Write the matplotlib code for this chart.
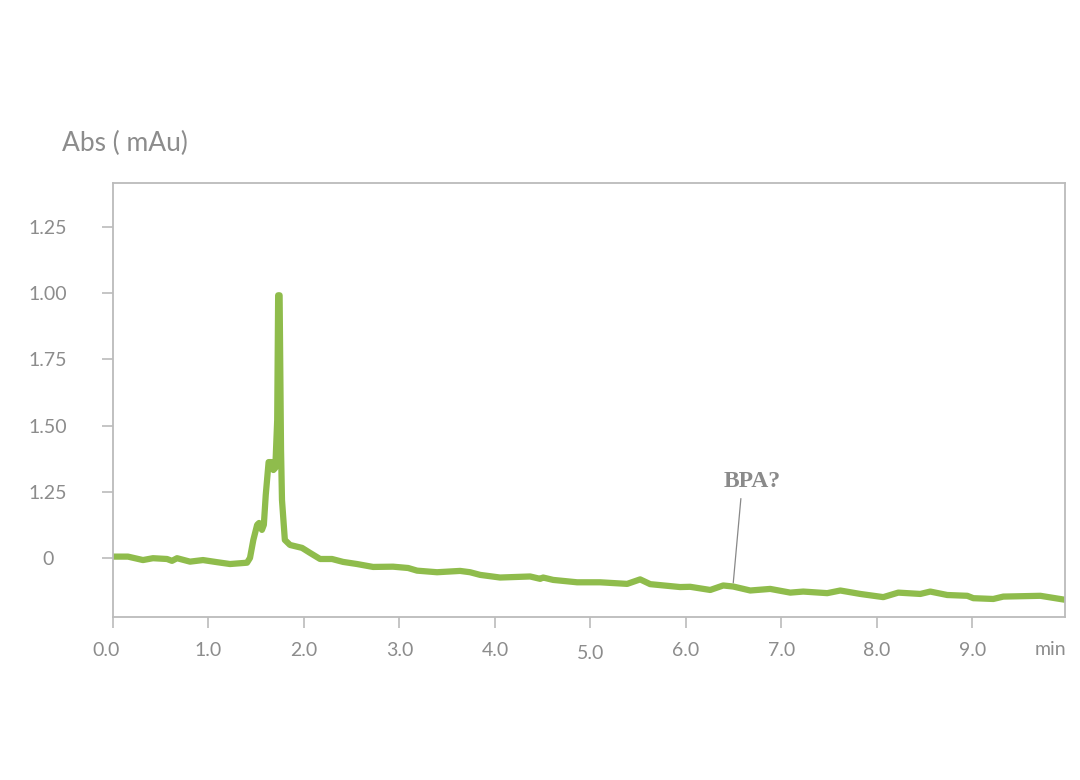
import numpy as np
import matplotlib.pyplot as plt
import matplotlib.transforms as mtransforms

# retention time (min) and absorbance
tiempo = [0.0, 0.157, 0.314, 0.419, 0.566, 0.618, 0.671, 0.807, 0.943, 1.090,
          1.226, 1.404, 1.435, 1.47, 1.51, 1.53, 1.56, 1.58, 1.60, 1.63, 1.66,
          1.68, 1.70, 1.72, 1.73, 1.745, 1.76, 1.77, 1.80, 1.854, 1.98, 2.064,
          2.169, 2.294, 2.410, 2.556, 2.724, 2.933, 3.091, 3.185, 3.394, 3.635,
          3.740, 3.845, 4.054, 4.369, 4.474, 4.505, 4.610, 4.861, 5.102, 5.385,
          5.521, 5.626, 5.940, 6.045, 6.255, 6.391, 6.496, 6.674, 6.883, 7.093,
          7.229, 7.480, 7.617, 7.826, 8.067, 8.224, 8.455, 8.559, 8.737, 8.947,
          9.010, 9.219, 9.324, 9.712, 9.97]
absorb = [0.005, 0.005, -0.008, -0.001, -0.004, -0.011, -0.001, -0.014, -0.008,
          -0.016, -0.023, -0.018, 0.0, 0.068, 0.125, 0.132, 0.106, 0.125, 0.238,
          0.362, 0.362, 0.332, 0.340, 0.521, 0.992, 0.992, 0.408, 0.219, 0.068,
          0.049, 0.038, 0.019, -0.004, -0.004, -0.015, -0.023, -0.034, -0.033,
          -0.038, -0.048, -0.054, -0.049, -0.054, -0.064, -0.074, -0.070, -0.079,
          -0.074, -0.083, -0.092, -0.092, -0.098, -0.081, -0.099, -0.110, -0.109,
          -0.121, -0.104, -0.108, -0.123, -0.117, -0.131, -0.127, -0.133, -0.123,
          -0.136, -0.148, -0.131, -0.136, -0.127, -0.140, -0.143, -0.152, -0.155,
          -0.146, -0.143, -0.158]

ytick_pos = [0, 0.25, 0.5, 0.75, 1.0, 1.25]
ytick_lab = ['0', '1.25', '1.50', '1.75', '1.00', '1.25']
xtick_pos = [0, 1, 2, 3, 4, 5, 6, 7, 8, 9]
xtick_lab = ['0.0', '1.0', '2.0', '3.0', '4.0', '5.0', '6.0', '7.0', '8.0', '9.0']

gris = '#8c8c8c'
verde = '#8fbc4c'

plt.rcParams['font.family'] = ['Lato', 'DejaVu Sans']

fig = plt.figure(figsize=(10.8, 7.8), dpi=100)
ax = fig.add_axes([0.1046, 0.209, 0.8815, 0.556])

ax.plot(tiempo, absorb, color=verde, lw=4.5, solid_joinstyle='round', solid_capstyle='round')

ax.set_xlim(0, 9.97)
ax.set_ylim(-0.223, 1.415)

ax.set_yticks(ytick_pos)
ax.set_yticklabels(ytick_lab, ha='center')
ax.set_xticks(xtick_pos)
ax.set_xticklabels(xtick_lab)
ax.tick_params(axis='both', colors='#bbbbbb', labelcolor=gris, labelsize=14,
               length=8, width=1.2)
ax.tick_params(axis='y', pad=39)
ax.tick_params(axis='x', pad=10)

# el rotulo 5.0 aparece un poco mas abajo y el 0.0 algo a la izquierda
lbl5 = ax.get_xticklabels()[5]
lbl5.set_transform(lbl5.get_transform() + mtransforms.ScaledTranslation(0, -2/72, fig.dpi_scale_trans))
lbl0 = ax.get_xticklabels()[0]
lbl0.set_transform(lbl0.get_transform() + mtransforms.ScaledTranslation(-5/72, 0, fig.dpi_scale_trans))

for s in ax.spines.values():
    s.set_color('#bbbbbb')
    s.set_linewidth(1.3)

fig.text(0.057, 0.816, 'Abs ( mAu)', fontsize=19, color=gris, va='center', ha='left')
ax.text(9.985, -0.347, 'min', fontsize=14, color=gris, ha='right', va='center')

ax.annotate('BPA?', xy=(6.496, -0.094), xytext=(6.69, 0.29), fontsize=17,
            fontweight='bold', family='Liberation Serif', color='#8a8a8a',
            ha='center', va='center',
            arrowprops=dict(arrowstyle='-', color='#888888', lw=0.9,
                            relpos=(0.32, 0.0), shrinkA=3, shrinkB=0))

fig.savefig('out.png', dpi=100)
